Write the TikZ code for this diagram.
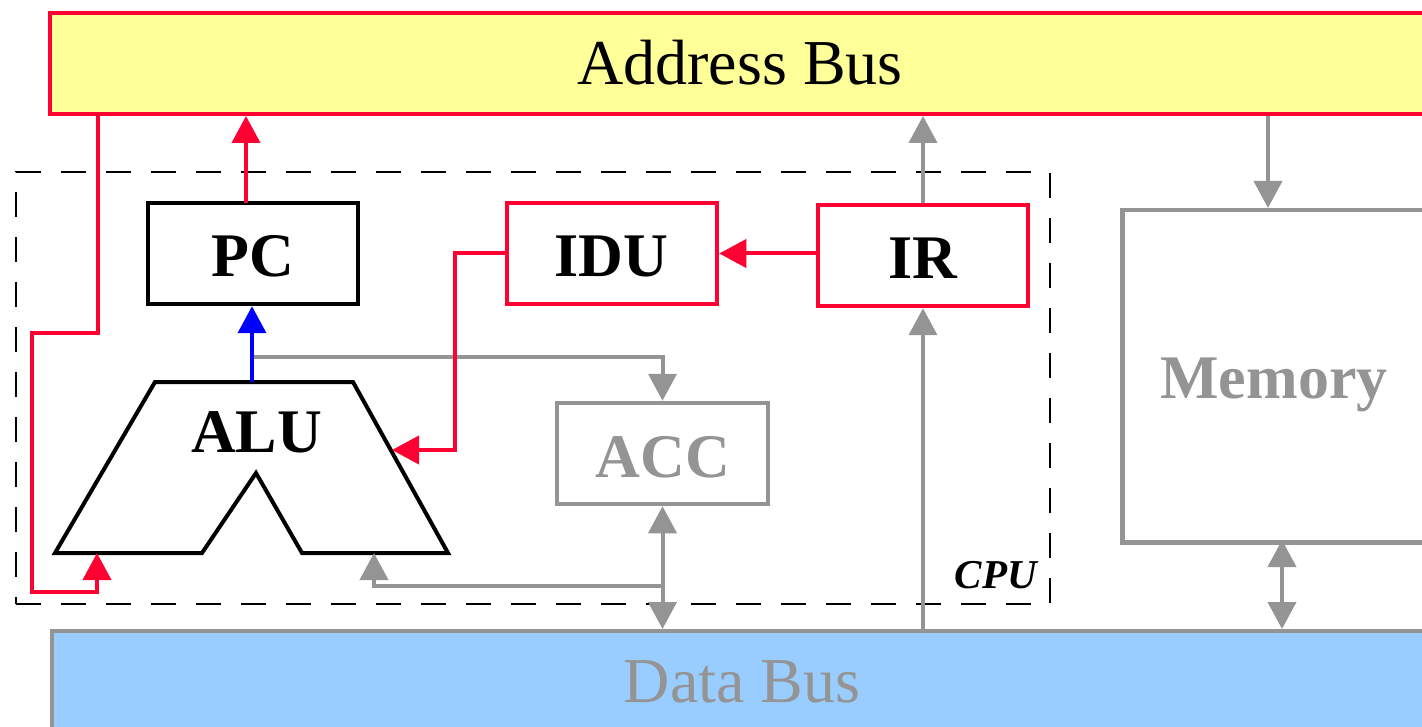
\documentclass[tikz,border=0pt]{standalone}
\usepackage{fontspec}
\setmainfont{Liberation Serif}
\usetikzlibrary{arrows.meta}
\definecolor{busred}{HTML}{FF0033}
\definecolor{linegray}{HTML}{949494}
\definecolor{addrfill}{HTML}{FFFF99}
\definecolor{datafill}{HTML}{99CCFF}
\definecolor{pathblue}{HTML}{0000FF}
\begin{document}
\begin{tikzpicture}[x=1pt,y=-1pt,
  >={Triangle[length=27pt,width=28pt]},
  bus/.style={draw, line width=4pt, inner sep=0pt, anchor=north west},
  buslbl/.style={anchor=base, inner sep=0pt, font=\fontsize{64}{70}\selectfont},
  regbox/.style={draw, line width=4.5pt, minimum width=210pt, minimum height=101pt, inner sep=0pt, fill=white},
  reglbl/.style={anchor=base, inner sep=0pt, font=\fontsize{62}{70}\selectfont\bfseries},
  redc/.style={draw=busred, line width=4pt},
  grayc/.style={draw=linegray, line width=4pt},
  bluec/.style={draw=pathblue, line width=4pt}]
\useasboundingbox (0,0) rectangle (1422,727);
\clip (0,0) rectangle (1422,727);

% buses
\node[bus, fill=addrfill, draw=busred, minimum width=1384pt, minimum height=101pt] (addr) at (48,11) {};
\node[buslbl] (addrtxt) at (740,85) {Address Bus};
\node[bus, fill=datafill, draw=linegray, minimum width=1400pt, minimum height=130pt] (data) at (50,629) {};
\node[buslbl, text=linegray] (datatxt) at (742,702) {Data Bus};

% CPU boundary
\node[draw, line width=2pt, dash pattern=on 25pt off 20pt, minimum width=1034pt, minimum height=432pt,
      anchor=north west, inner sep=0pt] (cpu) at (15,171) {};
\node[anchor=base east, inner sep=0pt, font=\fontsize{41}{45}\selectfont\bfseries\itshape] (cputxt) at (1037,588) {CPU};

% registers
\node[regbox, draw=black] (pc) at (253,253.5) {};
\node[reglbl] (pctxt) at (252.5,277) {PC};
\node[regbox, draw=busred] (idu) at (612,253.5) {};
\node[reglbl] (idutxt) at (611.5,277) {IDU};
\node[regbox, draw=busred] (ir) at (923,255.5) {};
\node[reglbl] (irtxt) at (923,279) {IR};
\node[regbox, draw=linegray, minimum width=211pt] (acc) at (662.5,453.5) {};
\node[reglbl, text=linegray] (acctxt) at (663,477) {ACC};

% memory
\node[regbox, draw=linegray, minimum width=330pt, minimum height=332pt, anchor=north west] (mem) at (1120,208) {};
\node[reglbl, text=linegray] (memtxt) at (1274,399) {Memory};

% ALU
\draw[line width=4pt] (155,382) -- (353,382) -- (448,553) -- (302,553) -- (256,473) -- (202,553) -- (55,553) -- cycle;
\node[reglbl] (alutxt) at (256.5,452) {ALU};
\coordinate (alutop) at (252,382);
\coordinate (aluctl) at (392,450);
\coordinate (aluA) at (97,553);
\coordinate (aluB) at (374,553);

% connection points
\coordinate (pcup) at (246,203);
\coordinate (addrtap) at (98,112);
\coordinate (iduturn) at (455,450);
\coordinate (acctap) at (252,357);
\coordinate (accret) at (662.5,586);
\coordinate (memin) at (1268,208);
\coordinate (memout) at (1282,540);

% gray data paths
\draw[grayc,->] (acctap) -| (acc.north);
\draw[grayc,<->] (acc.south) -- (acc.south |- data.north);
\draw[grayc,->] (accret) -| (aluB);
\draw[grayc,->] (ir.south |- data.north) -- (ir.south);
\draw[grayc,->] (ir.north) -- (ir.north |- addr.south);
\draw[grayc,->] (memin |- addr.south) -- (memin);
\draw[grayc,<->] (memout) -- (memout |- data.north);

% ALU result to PC
\draw[bluec,->] (alutop) -- (alutop |- pc.south);

% red control / address paths
\draw[redc,->] (pcup) -- (pcup |- addr.south);
\draw[redc,->] (idu.east -| ir.west) -- (idu.east);
\draw[redc,->] (idu.west) -| (iduturn) -- (aluctl);
\draw[redc,->] (addrtap) -- (98,333) -- (32,333) -- (32,592) -- (97,592) -- (aluA);
\end{tikzpicture}
\end{document}
